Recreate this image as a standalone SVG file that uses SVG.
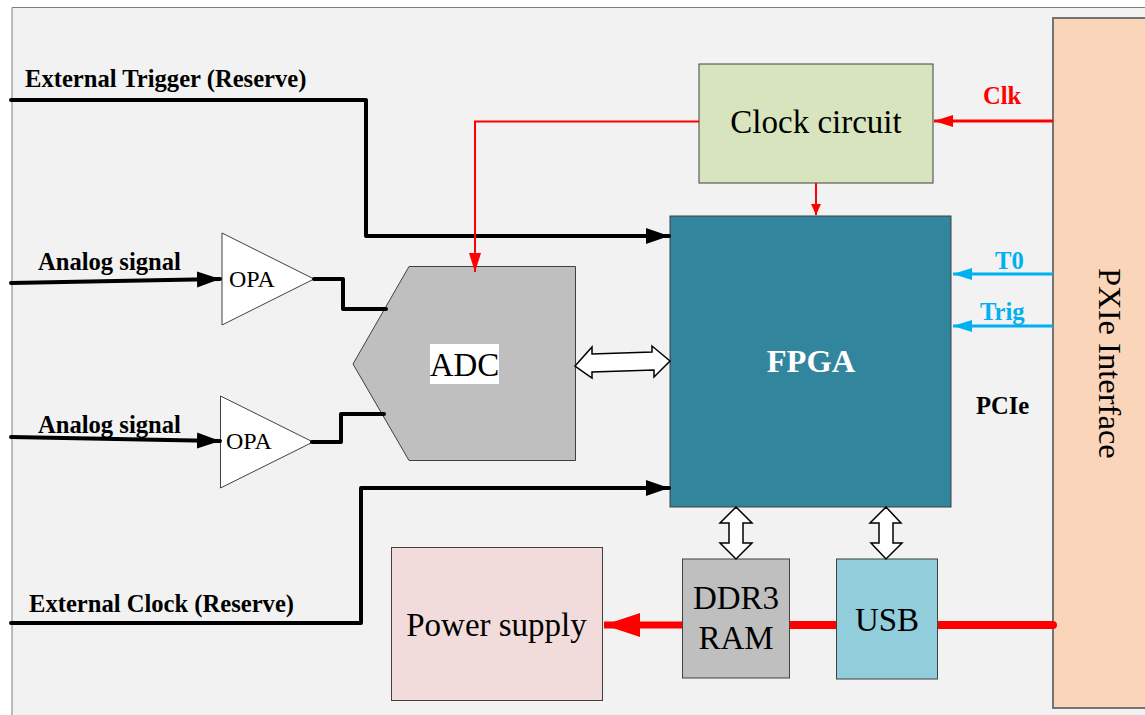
<svg xmlns="http://www.w3.org/2000/svg" width="1145" height="715" viewBox="0 0 1145 715">
<style>
.box{stroke:#404040;stroke-width:1}
.t{font-family:"Liberation Serif","Times New Roman",serif;fill:#000}
.b{font-weight:bold;font-size:24.600px}
.n{font-size:33px}
.o{font-size:24px}
.w{fill:none;stroke:#000;stroke-width:4;stroke-linejoin:round;stroke-linecap:round}
.r{fill:none;stroke:#f00;stroke-width:2}
.c{fill:none;stroke:#00b0f0;stroke-width:3}
.d{fill:#fff;stroke:#000;stroke-width:1.5;stroke-linejoin:miter}
</style>
<defs>
<marker id="ak" markerUnits="userSpaceOnUse" markerWidth="24" markerHeight="18" refX="23" refY="9" orient="auto"><path d="M0 1L23 9L0 17z" fill="#000"/></marker>
<marker id="ar" markerUnits="userSpaceOnUse" markerWidth="20" markerHeight="14" refX="19" refY="7" orient="auto"><path d="M0 1L19 7L0 13z" fill="#f00"/></marker>
<marker id="ars" markerUnits="userSpaceOnUse" markerWidth="12" markerHeight="14" refX="11" refY="7" orient="auto"><path d="M0 2L11 7L0 12z" fill="#f00"/></marker>
<marker id="ac" markerUnits="userSpaceOnUse" markerWidth="20" markerHeight="14" refX="19" refY="7" orient="auto"><path d="M0 1L19 7L0 13z" fill="#00b0f0"/></marker>
<marker id="abig" markerUnits="userSpaceOnUse" markerWidth="38" markerHeight="26" refX="36" refY="13" orient="auto"><path d="M0 1L36 13L0 25z" fill="#f00"/></marker>
</defs>
<rect width="1145" height="715" fill="#fff"/>
<path d="M12 725V7.500H1155V725z" fill="#f2f2f2" stroke="#7f7f7f" stroke-width="1"/>
<g id="pxie"><rect x="1053" y="18" width="110" height="690" fill="#fbd5b9" stroke="#737373" stroke-width="2"/>
<text class="t" font-size="32.600" transform="translate(1099 268) rotate(90)">PXIe Interface</text></g>
<g id="clock"><rect class="box" x="699" y="64" width="234" height="119" fill="#d7e4bd"/>
<text class="t n" x="816" y="133" text-anchor="middle">Clock circuit</text></g>
<g id="fpga"><rect class="box" x="670" y="216" width="281" height="291" fill="#31859c"/>
<text class="t" x="811" y="372" text-anchor="middle" font-size="32.500" font-weight="bold" style="fill:#fff">FPGA</text></g>
<g id="adc"><path class="box" d="M409 266.500H575.500V460.500H409L353 364z" fill="#bfbfbf"/>
<rect x="430" y="344" width="69" height="40" fill="#fff"/>
<text class="t n" x="464.500" y="376" text-anchor="middle">ADC</text></g>
<g id="opa1"><path class="box" d="M222 233V325L314 279z" fill="#fff"/><text class="t o" x="229" y="287">OPA</text></g>
<g id="opa2"><path class="box" d="M220.500 396V488L313 442z" fill="#fff"/><text class="t o" x="226" y="449">OPA</text></g>
<g id="power"><rect class="box" x="391.500" y="547.500" width="211" height="153" fill="#f2dcdb"/>
<text class="t n" x="496.500" y="636" text-anchor="middle">Power supply</text></g>
<g id="ddr"><rect class="box" x="682.500" y="559" width="107" height="119" fill="#bfbfbf"/>
<text class="t n" x="736" y="609" text-anchor="middle">DDR3</text><text class="t n" x="736" y="649" text-anchor="middle">RAM</text></g>
<g id="usb"><rect class="box" x="836.500" y="559" width="101" height="120" fill="#92cddc"/>
<text class="t n" x="887" y="631" text-anchor="middle">USB</text></g>
<g id="connectors">
<path class="w" marker-end="url(#ak)" d="M11 100H366V236H669"/>
<path class="w" marker-end="url(#ak)" d="M11 283L220 279"/>
<path class="w" marker-end="url(#ak)" d="M11 437L220 441"/>
<path class="w" marker-end="url(#ak)" d="M11 623H361V488H669"/>
<path class="w" d="M314 279H343V309H386"/>
<path class="w" d="M312 442H341V414H384"/>
<path class="r" marker-end="url(#ar)" d="M699 121.500H475V272"/>
<path class="r" marker-end="url(#ars)" d="M816 183V215"/>
<path fill="none" stroke="#f00" stroke-width="3" marker-end="url(#ar)" d="M1053 121H934"/>
<path class="c" marker-end="url(#ac)" d="M1053 274H953"/>
<path class="c" marker-end="url(#ac)" d="M1053 326H953"/>
<path fill="none" stroke="#f00" stroke-width="8" d="M938 625H1053"/>
<circle cx="1053" cy="625" r="4" fill="#f00"/>
<path fill="none" stroke="#f00" stroke-width="8" d="M790 625H836"/>
<path fill="none" stroke="#f00" stroke-width="7" marker-end="url(#abig)" d="M682 625H604"/>
<path class="d" d="M575 366L592 347V354L652 352V346L670 361L654 377V370L592 372V378z"/>
<path class="d" d="M736 507L752 523H743V543H752L736 559L720 543H729V523H720z"/>
<path class="d" d="M886 507L901 523H893V543H902L886 559L871 543H879V523H870z"/>
</g>
<g id="labels">
<text class="t b" x="25" y="87">External Trigger (Reserve)</text>
<text class="t b" x="38" y="270">Analog signal</text>
<text class="t b" x="38" y="433">Analog signal</text>
<text class="t b" x="29" y="612">External Clock (Reserve)</text>
<text class="t b" x="983" y="104" style="fill:#f00">Clk</text>
<text class="t b" x="995" y="269" style="fill:#00b0f0">T0</text>
<text class="t b" x="980" y="320" style="fill:#00b0f0">Trig</text>
<text class="t b" x="976" y="414">PCIe</text>
</g>
</svg>
